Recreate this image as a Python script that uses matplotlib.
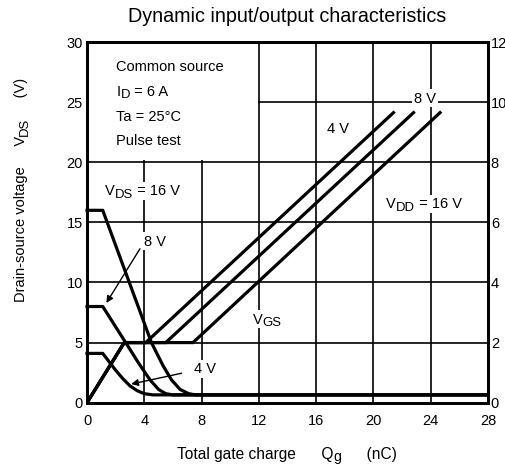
import math
import matplotlib
matplotlib.use("Agg")
import matplotlib.pyplot as plt
from matplotlib.patches import Rectangle
from matplotlib.transforms import IdentityTransform

plt.rcParams["font.family"] = ["Liberation Sans", "DejaVu Sans"]

# Drain-source voltage curves (left axis, V) vs total gate charge (nC)
q_vds_4 = [0, 1.1, 2.0, 2.5, 3.0, 3.5, 4.0, 4.6, 28]
vds_4 = [4.1, 4.1, 2.7, 2.0, 1.4, 1.0, 0.75, 0.65, 0.65]
q_vds_8 = [0, 1.1, 2.7, 3.6, 4.4, 5.0, 5.5, 6.0, 28]
vds_8 = [8.0, 8.0, 5.0, 3.3, 1.9, 1.1, 0.75, 0.65, 0.65]
q_vds_16 = [0, 1.1, 4.5, 5.3, 5.9, 6.5, 7.1, 7.6, 28]
vds_16 = [16.0, 16.0, 5.0, 3.1, 1.9, 1.1, 0.75, 0.65, 0.65]

# Gate-source voltage curves (right axis, V)
q_vgs_4 = [0, 2.6, 4.1, 21.4]
vgs_4 = [0, 2.0, 2.0, 9.65]
q_vgs_8 = [0, 2.6, 5.5, 22.8]
vgs_8 = [0, 2.0, 2.0, 9.65]
q_vgs_16 = [0, 2.6, 7.4, 24.65]
vgs_16 = [0, 2.0, 2.0, 9.65]

x_ticks = [0, 4, 8, 12, 16, 20, 24, 28]
y_left_ticks = [0, 5, 10, 15, 20, 25, 30]
y_right_ticks = [0, 2, 4, 6, 8, 10, 12]

W, H = 505, 469
fig = plt.figure(figsize=(W / 100, H / 100), dpi=100)
ax = fig.add_axes([87 / W, (H - 402.7) / H, 401 / W, 360.7 / H])
ax2 = ax.twinx()

ax.set_xlim(0, 28)
ax.set_ylim(0, 30)
ax2.set_ylim(0, 12)
ax.set_xticks(x_ticks)
ax.set_yticks(y_left_ticks)
ax2.set_yticks(y_right_ticks)

ax.set_axisbelow(True)
ax.grid(True, color="black", linewidth=1.2)

for a in (ax, ax2):
    for s in a.spines.values():
        s.set_linewidth(2.0)
        s.set_zorder(5)
ax.tick_params(axis="both", length=0, labelsize=10.5)
ax.tick_params(axis="y", pad=3)
ax.tick_params(axis="x", pad=8)
ax2.tick_params(axis="y", length=0, labelsize=10.5, pad=2)

# blank panel for the test conditions
ax.add_patch(Rectangle((0.08, 20.15), 11.85, 9.8, facecolor="white",
                       edgecolor="none", zorder=1))

lw = 2.3
for q, v in ((q_vds_4, vds_4), (q_vds_8, vds_8), (q_vds_16, vds_16)):
    ax.plot(q, v, color="black", linewidth=lw, solid_joinstyle="round",
            zorder=3, clip_on=False)
for q, v in ((q_vgs_4, vgs_4), (q_vgs_8, vgs_8), (q_vgs_16, vgs_16)):
    ax2.plot(q, v, color="black", linewidth=lw, solid_joinstyle="miter",
             zorder=3)

renderer = fig.canvas.get_renderer()
SUB_SCALE = 0.9


def text_width(s, size):
    t = fig.text(0, 0, s, fontsize=size)
    w = t.get_window_extent(renderer).width
    t.remove()
    return w


def rich_text(parent, cx, cy, parts, size, rotation=0, white=False, z=4):
    """Draw text with subscripts centred on display point (cx, cy)."""
    sub_size = size * SUB_SCALE
    widths = [text_width(s, sub_size if sub else size) for s, sub in parts]
    total = sum(widths)
    px = size * 100 / 72
    cap = 0.716 * px
    drop = 0.17 * px
    ang = math.radians(rotation)
    ux, uy = math.cos(ang), math.sin(ang)
    nx, ny = -uy, ux
    if white and rotation == 0:
        pad = 2
        rect = Rectangle((cx - total / 2 - pad, cy - cap / 2 - drop - pad),
                         total + 2 * pad, cap + drop + 2 * pad + 1,
                         transform=IdentityTransform(),
                         facecolor="white", edgecolor="none", zorder=1.8)
        parent.add_artist(rect)
    pos = -total / 2
    for (s, sub), w in zip(parts, widths):
        off = -cap / 2 - (drop if sub else 0)
        x = cx + ux * pos + nx * off
        y = cy + uy * pos + ny * off
        parent.text(x, y, s, fontsize=sub_size if sub else size,
                    rotation=rotation, rotation_mode="anchor", ha="left",
                    va="baseline", transform=IdentityTransform(), zorder=z)
        pos += w


def data_text(x, y, parts, size=10.5, white=True):
    cx, cy = ax.transData.transform((x, y))
    rich_text(ax, cx, cy, parts, size, white=white)


fs = 10.5
conditions = [[("Common source", False)],
              [("I", False), ("D", True), (" = 6 A", False)],
              [("Ta = 25°C", False)],
              [("Pulse test", False)]]
for i, parts in enumerate(conditions):
    w = sum(text_width(s, fs * SUB_SCALE if sub else fs) for s, sub in parts)
    x0, y0 = ax.transData.transform((2.05, 28.0 - 2.05 * i))
    rich_text(ax, x0 + w / 2, y0, parts, fs)

data_text(3.88, 17.7, [("V", False), ("DS", True), (" = 16 V", False)])
data_text(4.75, 13.5, [("8 V", False)])
ax.annotate("", xy=(1.25, 8.1), xytext=(3.8, 13.0),
            arrowprops=dict(arrowstyle="-|>", color="black", lw=1.0,
                            mutation_scale=10), zorder=4)
data_text(8.25, 2.9, [("4 V", False)])
ax.annotate("", xy=(2.9, 1.5), xytext=(6.8, 2.5),
            arrowprops=dict(arrowstyle="-|>", color="black", lw=1.0,
                            mutation_scale=10), zorder=4)
data_text(12.6, 7.0, [("V", False), ("GS", True)])
data_text(17.55, 22.9, [("4 V", False)])
data_text(23.6, 25.4, [("8 V", False)])
data_text(23.55, 16.6, [("V", False), ("DD", True), (" = 16 V", False)])

fig.text(287 / W, 1 - 17 / H, "Dynamic input/output characteristics",
         fontsize=14.2, ha="center", va="center")
rich_text(fig, 287, H - 453,
          [("Total gate charge      Q", False), ("g", True),
           ("      (nC)", False)], 11.2)
rich_text(fig, 20, H - 190,
          [("Drain-source voltage     V", False), ("DS", True),
           ("     (V)", False)], 10.5, rotation=90)

fig.savefig("out.png", dpi=100)
